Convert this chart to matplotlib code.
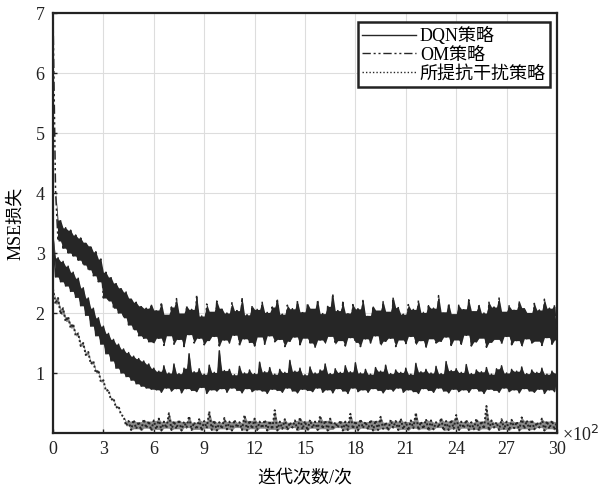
import numpy as np
import matplotlib
matplotlib.use("Agg")
import matplotlib.pyplot as plt

plt.rcParams['font.family'] = ['Liberation Serif', 'Noto Sans CJK SC']
plt.rcParams['axes.unicode_minus'] = False

# iteration axis in units of 10^2
x_ticks = [0, 3, 6, 9, 12, 15, 18, 21, 24, 27, 30]
y_ticks = [1, 2, 3, 4, 5, 6, 7]
labels = ['DQN策略', 'OM策略', '所提抗干扰策略']

om_loss = [
    7.00, 4.05, 3.20, 3.55, 3.08, 3.42, 3.00, 3.38, 2.95, 3.30,
    2.88, 3.25, 2.80, 3.18, 2.72, 3.12, 2.62, 3.02, 2.52, 2.90,
    2.25, 2.68, 2.20, 2.60, 2.08, 2.50, 2.00, 2.42, 1.92, 2.35,
    1.80, 2.25, 1.72, 2.18, 1.62, 2.12, 1.58, 2.08, 1.52, 2.15,
    1.50, 2.05, 1.58, 2.18, 1.46, 1.98, 1.62, 2.10, 1.48, 2.24,
    1.56, 2.00, 1.44, 2.12, 1.64, 2.06, 1.50, 2.30, 1.58, 1.95,
    1.47, 2.15, 1.54, 2.03, 1.61, 2.20, 1.45, 2.08, 1.55, 2.00,
    1.50, 2.17, 1.63, 2.04, 1.46, 2.26, 1.57, 1.97, 1.51, 2.12,
    1.45, 2.06, 1.60, 2.19, 1.48, 2.01, 1.62, 2.10, 1.52, 2.24,
    1.56, 1.98, 1.44, 2.13, 1.53, 2.07, 1.60, 2.20, 1.47, 2.02,
    1.58, 2.16, 1.50, 2.08, 1.43, 2.22, 1.55, 1.99, 1.49, 2.11,
    1.61, 2.32, 1.48, 2.04, 1.54, 2.18, 1.45, 2.00, 1.59, 2.14,
    1.51, 2.07, 1.44, 2.23, 1.57, 1.96, 1.50, 2.12, 1.62, 2.05,
    1.46, 2.19, 1.53, 2.03, 1.58, 2.26, 1.44, 2.09, 1.55, 1.98,
    1.49, 2.14, 1.61, 2.06, 1.47, 2.21, 1.54, 2.01, 1.42, 2.12,
    1.57, 2.08, 1.50, 2.29, 1.53, 2.02, 1.60, 2.16, 1.46, 1.99,
    1.55, 2.13, 1.48, 2.07, 1.63, 2.22, 1.45, 2.04, 1.52, 2.15,
    1.58, 2.00, 1.43, 2.18, 1.51, 2.10, 1.56, 2.25, 1.49, 2.03,
    1.61, 2.12, 1.47, 2.06, 1.54, 2.20, 1.44, 2.09, 1.57, 2.01,
    1.50, 2.16, 1.53, 2.05, 1.46, 2.23, 1.59, 2.08, 1.48, 2.14, 1.55,
]

dqn_loss = [
    3.30, 2.60, 2.92, 2.52, 2.86, 2.45, 2.78, 2.36, 2.68, 2.26,
    2.58, 2.12, 2.42, 1.96, 2.25, 1.78, 2.08, 1.62, 1.92, 1.48,
    1.78, 1.32, 1.66, 1.20, 1.56, 1.08, 1.48, 1.00, 1.40, 0.94,
    1.34, 0.88, 1.28, 0.82, 1.24, 0.78, 1.20, 0.75, 1.15, 0.73,
    1.08, 0.72, 1.03, 0.68, 1.12, 0.75, 1.00, 0.70, 1.15, 0.74,
    0.99, 0.67, 1.08, 0.74, 1.32, 0.71, 1.02, 0.69, 1.07, 0.76,
    0.98, 0.66, 1.13, 0.72, 1.01, 0.70, 1.37, 0.74, 1.04, 0.68,
    1.06, 0.75, 0.97, 0.71, 1.11, 0.67, 1.00, 0.74, 1.05, 0.69,
    0.99, 0.72, 1.18, 0.70, 1.02, 0.66, 1.09, 0.73, 0.98, 0.71,
    1.06, 0.68, 1.01, 0.75, 1.21, 0.70, 1.03, 0.67, 1.08, 0.73,
    0.97, 0.71, 1.10, 0.69, 1.00, 0.75, 1.05, 0.68, 1.15, 0.72,
    0.99, 0.67, 1.07, 0.74, 1.01, 0.70, 1.12, 0.66, 1.02, 0.75,
    1.17, 0.69, 1.00, 0.72, 1.06, 0.68, 0.98, 0.74, 1.09, 0.71,
    1.03, 0.67, 1.13, 0.73, 0.99, 0.70, 1.05, 0.75, 1.01, 0.68,
    1.08, 0.72, 0.98, 0.69, 1.16, 0.66, 1.02, 0.74, 1.06, 0.71,
    1.00, 0.68, 1.11, 0.75, 0.99, 0.70, 1.19, 0.67, 1.04, 0.73,
    1.07, 0.69, 1.01, 0.72, 1.14, 0.68, 0.99, 0.74, 1.05, 0.70,
    1.02, 0.66, 1.09, 0.73, 0.98, 0.71, 1.07, 0.68, 1.12, 0.75,
    1.00, 0.69, 1.06, 0.72, 1.03, 0.67, 1.10, 0.74, 0.99, 0.70,
    1.05, 0.68, 1.01, 0.73, 1.08, 0.66, 0.98, 0.72, 1.03, 0.69, 1.00,
]

proposed_loss = [
    2.40, 2.15, 2.25, 1.98, 2.08, 1.86, 1.94, 1.75, 1.82, 1.62,
    1.66, 1.45, 1.50, 1.30, 1.35, 1.15, 1.20, 1.00, 1.05, 0.85,
    0.88, 0.70, 0.72, 0.55, 0.58, 0.42, 0.45, 0.30, 0.28, 0.12,
    0.20, 0.05, 0.22, 0.07, 0.19, 0.04, 0.23, 0.08, 0.20, 0.04,
    0.21, 0.06, 0.24, 0.04, 0.19, 0.08, 0.33, 0.05, 0.20, 0.07,
    0.22, 0.04, 0.19, 0.09, 0.28, 0.05, 0.18, 0.06, 0.23, 0.04,
    0.20, 0.08, 0.36, 0.05, 0.21, 0.04, 0.18, 0.07, 0.25, 0.06,
    0.19, 0.04, 0.22, 0.09, 0.18, 0.05, 0.30, 0.04, 0.21, 0.07,
    0.24, 0.05, 0.19, 0.08, 0.22, 0.04, 0.20, 0.06, 0.38, 0.04,
    0.19, 0.07, 0.23, 0.05, 0.18, 0.09, 0.21, 0.04, 0.26, 0.06,
    0.20, 0.04, 0.22, 0.08, 0.19, 0.05, 0.29, 0.07, 0.21, 0.04,
    0.24, 0.06, 0.18, 0.09, 0.21, 0.04, 0.19, 0.05, 0.32, 0.07,
    0.20, 0.04, 0.23, 0.08, 0.19, 0.06, 0.22, 0.04, 0.21, 0.05,
    0.27, 0.07, 0.18, 0.04, 0.22, 0.09, 0.20, 0.05, 0.24, 0.06,
    0.19, 0.04, 0.21, 0.08, 0.34, 0.05, 0.19, 0.07, 0.23, 0.04,
    0.21, 0.06, 0.18, 0.09, 0.25, 0.04, 0.20, 0.05, 0.22, 0.07,
    0.30, 0.04, 0.19, 0.08, 0.22, 0.05, 0.18, 0.06, 0.24, 0.04,
    0.20, 0.07, 0.45, 0.04, 0.21, 0.09, 0.18, 0.05, 0.23, 0.06,
    0.19, 0.04, 0.22, 0.08, 0.19, 0.04, 0.26, 0.07, 0.21, 0.05,
    0.22, 0.06, 0.18, 0.09, 0.24, 0.04, 0.20, 0.07, 0.21, 0.05, 0.19,
]

ink = '#262626'


def xs(v):
    return np.linspace(0, 30, len(v))


def hull(v):
    """Upper/lower edge of the dense region swept by a noisy trace."""
    v = np.asarray(v, dtype=float)
    left = np.concatenate([[v[0]], v[:-1]])
    right = np.concatenate([v[1:], [v[-1]]])
    upper = np.maximum(v, np.minimum(left, right))
    lower = np.minimum(v, np.maximum(left, right))
    return lower, upper


fig = plt.figure(figsize=(6.0, 4.92), dpi=100)
ax = fig.add_axes([53/600, 59/492, 504/600, 420/492])

for series in (om_loss, dqn_loss):
    lo, hi = hull(series)
    ax.fill_between(xs(series), lo, hi, color=ink, lw=0, zorder=2)

lo, hi = hull(proposed_loss)
ax.fill_between(xs(proposed_loss), lo, hi, color='#8a8a8a', lw=0, zorder=2)

ax.plot(xs(dqn_loss), dqn_loss, color=ink, lw=1.1, ls='-', label=labels[0], zorder=3)
ax.plot(xs(om_loss), om_loss, color=ink, lw=1.1, ls=(0, (6, 2, 1.5, 2, 1.5, 2)), label=labels[1], zorder=3)
ax.plot(xs(proposed_loss), proposed_loss, color=ink, lw=1.4, ls=(0, (1, 1.2)), label=labels[2], zorder=3)

ax.set_xlim(0, 30)
ax.set_ylim(0, 7)
ax.set_xticks(x_ticks)
ax.set_xticklabels([str(t) for t in x_ticks])
ax.set_yticks(y_ticks)
ax.set_yticklabels([str(t) for t in y_ticks])
ax.tick_params(direction='in', length=3, width=1, labelsize=13, colors='#222222', pad=6)
ax.grid(True, color='#dddddd', lw=0.8, zorder=0)
ax.set_axisbelow(True)
for s in ax.spines.values():
    s.set_linewidth(1.6)
    s.set_color('#222222')

ax.set_xlabel('迭代次数/次', fontsize=13, labelpad=8)
ax.set_ylabel('MSE损失', fontsize=13, labelpad=8)

leg = ax.legend(loc='upper right', bbox_to_anchor=(0.987, 0.978), fontsize=13,
                frameon=True, fancybox=False, borderpad=0.25, labelspacing=0.1,
                handlelength=3.0, handletextpad=0.2, borderaxespad=0.0)
leg_styles = ['-', (0, (6, 2, 1.5, 2, 1.5, 2)), (0, (1, 1.5))]
for h, st in zip(leg.get_lines(), leg_styles):
    h.set_linewidth(1.0)
    h.set_linestyle(st)
leg.get_frame().set_edgecolor('#222222')
leg.get_frame().set_linewidth(1.8)
leg.get_frame().set_alpha(1)

fig.text(562/600, (492-435)/492, '×10$^2$', fontsize=13, va='center', ha='left', color='#222222')

fig.savefig('out.png', dpi=100)
